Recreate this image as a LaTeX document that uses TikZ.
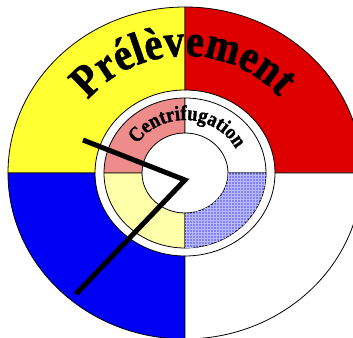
\documentclass[tikz,border=0pt]{standalone}
\usepackage{fontspec}
\setmainfont{Liberation Serif}
\newfontfamily\dialfont[FakeStretch=0.88, BoldFeatures={FakeBold=1.3}]{Liberation Serif}
\usetikzlibrary{decorations.text,patterns}

\definecolor{quadyellow}{RGB}{255,255,50}
\definecolor{quadred}{RGB}{222,0,0}
\definecolor{quadblue}{RGB}{0,0,245}
\definecolor{innerpink}{RGB}{238,140,140}
\definecolor{inneryellow}{RGB}{255,255,170}
\definecolor{innerblue}{RGB}{130,130,248}

\begin{document}
\begin{tikzpicture}[line width=0.8pt]
    % Frame of the picture (centre of the dial at the origin)
    \clip (-185pt,-164pt) rectangle (168pt,173pt);
    \fill[white] (-185pt,-164pt) rectangle (168pt,173pt);

    % Outer band: four coloured quarters
    \foreach \a/\c in {90/quadyellow, 0/quadred, 180/quadblue, 270/white}
        \draw[fill=\c] (\a:177pt and 166pt)
            arc[start angle=\a, delta angle=90, x radius=177pt, y radius=166pt]
            -- ({\a+90}:90pt and 83pt)
            arc[start angle={\a+90}, delta angle=-90, x radius=90pt, y radius=83pt]
            -- cycle;

    % Inner band: four pale quarters
    \foreach \a/\c in {90/innerpink, 0/white, 180/inneryellow}
        \draw[fill=\c] (\a:81pt and 75pt)
            arc[start angle=\a, delta angle=90, x radius=81pt, y radius=75pt]
            -- ({\a+90}:43pt and 40pt)
            arc[start angle={\a+90}, delta angle=-90, x radius=43pt, y radius=40pt]
            -- cycle;
    % Gridded quarter
    \draw[fill=innerblue, postaction={pattern=grid, pattern color=innerblue!55!white}]
        (270:81pt and 75pt)
        arc[start angle=270, delta angle=90, x radius=81pt, y radius=75pt]
        -- (0:43pt and 40pt)
        arc[start angle=0, delta angle=-90, x radius=43pt, y radius=40pt]
        -- cycle;

    % Curved labels
    \path[decorate, decoration={text along path, text align=center,
            text={|\dialfont\fontsize{46}{48}\selectfont\bfseries|Prélèvement}}]
        (152:124pt and 117pt)
        arc[start angle=152, end angle=30, x radius=124pt, y radius=117pt];
    \path[decorate, decoration={text along path, text align=center,
            text={|\dialfont\fontsize{21}{23}\selectfont\bfseries|Centrifugation}}]
        (150:57pt and 53pt)
        arc[start angle=150, end angle=24, x radius=57pt, y radius=53pt];

    % Clock hands
    \coordinate (pivot) at (0pt,-7pt);
    \coordinate (short) at (-102pt,33pt);
    \coordinate (long) at (-109pt,-121pt);
    \draw[line width=5pt, line join=miter] (short) -- (pivot) -- (long);
\end{tikzpicture}
\end{document}
